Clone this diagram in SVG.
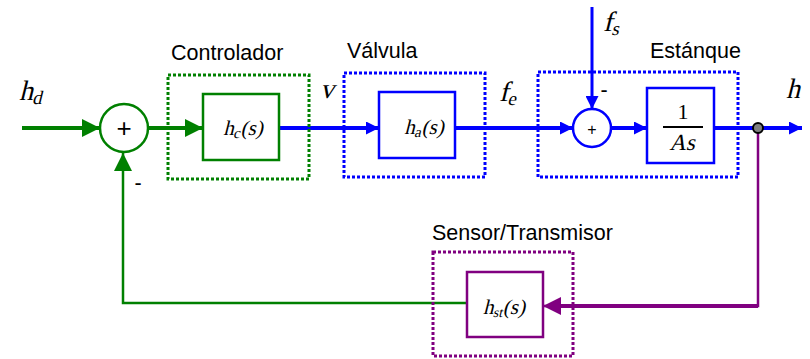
<svg xmlns="http://www.w3.org/2000/svg" width="810" height="359" viewBox="0 0 810 359">
<style>
.lbl{font-family:"Liberation Sans",Arial,sans-serif;font-size:21.5px;fill:#000}
.m{font-family:"Liberation Serif","Times New Roman",serif;fill:#000}
.g{stroke:#008000;fill:none}
.b{stroke:#0000FF;fill:none}
.p{stroke:#800080;fill:none}
.box{stroke-width:2.5;fill:#fff}
.dot{stroke-width:3;stroke-dasharray:3 2;fill:none}
</style>
<defs>
<marker id="ag" markerUnits="userSpaceOnUse" markerWidth="18" markerHeight="18" refX="18" refY="9" orient="auto"><path d="M0,0 L18,9 L0,18 Z" fill="#008000"/></marker>
<marker id="ab" markerUnits="userSpaceOnUse" markerWidth="13" markerHeight="13" refX="13" refY="6.5" orient="auto"><path d="M0,0 L13,6.5 L0,13 Z" fill="#0000FF"/></marker>
<marker id="ap" markerUnits="userSpaceOnUse" markerWidth="18" markerHeight="18" refX="18" refY="9" orient="auto"><path d="M0,0 L18,9 L0,18 Z" fill="#800080"/></marker>
</defs>

<g id="connectors">
<line class="g" x1="22" y1="128" x2="100" y2="128" stroke-width="4" marker-end="url(#ag)"/>
<line class="g" x1="148" y1="128" x2="203" y2="128" stroke-width="4" marker-end="url(#ag)"/>
<line class="b" x1="279" y1="128" x2="379" y2="128" stroke-width="4" marker-end="url(#ab)"/>
<line class="b" x1="455" y1="128" x2="573" y2="128" stroke-width="4" marker-end="url(#ab)"/>
<line class="b" x1="611" y1="128" x2="647" y2="128" stroke-width="4" marker-end="url(#ab)"/>
<line class="b" x1="714" y1="128" x2="802" y2="128" stroke-width="4" marker-end="url(#ab)"/>
<line class="b" x1="592" y1="7" x2="592" y2="109" stroke-width="3" marker-end="url(#ab)"/>
<polyline class="p" points="758,128 758,306 543,306" stroke-width="2.5" marker-end="url(#ap)"/>
<line class="p" x1="560" y1="306" x2="758" y2="306" stroke-width="4"/>
<polyline class="g" points="467,303 123,303 123,153" stroke-width="2.5" marker-end="url(#ag)"/>
<circle cx="758" cy="128" r="5" fill="#808080" stroke="#000" stroke-width="2"/>
</g>

<g id="sum1">
<circle cx="124" cy="128" r="24" class="g" stroke-width="2.5" fill="#fff"/>
<text x="124" y="137" text-anchor="middle" font-family="'Liberation Sans',Arial,sans-serif" font-size="26">+</text>
<text x="138" y="190" text-anchor="middle" class="lbl">-</text>
</g>

<g id="controlador">
<rect x="168" y="75" width="141" height="104" class="g dot"/>
<rect x="203" y="94" width="76" height="66" class="g box"/>
<text x="171" y="60" class="lbl">Controlador</text>
<text transform="translate(243,135) skewX(-14)" text-anchor="middle" class="m" font-size="21">h<tspan font-size="15" dy="3">c</tspan><tspan dy="-3">(s)</tspan></text>
</g>

<g id="valvula">
<rect x="344" y="73" width="141" height="104" class="b dot"/>
<rect x="379" y="92" width="76" height="66" class="b box"/>
<text x="347" y="58" class="lbl">Válvula</text>
<text transform="translate(424,134) skewX(-14)" text-anchor="middle" class="m" font-size="21">h<tspan font-size="15" dy="3">a</tspan><tspan dy="-3">(s)</tspan></text>
</g>

<g id="estanque">
<rect x="538" y="72" width="200" height="105" class="b dot"/>
<circle cx="592" cy="128" r="19" class="b" stroke-width="2.5" fill="#fff"/>
<text x="592" y="135" text-anchor="middle" font-family="'Liberation Sans',Arial,sans-serif" font-size="16">+</text>
<text x="604" y="97" text-anchor="middle" class="lbl" font-size="16">-</text>
<rect x="647" y="88" width="67" height="75" class="b box"/>
<line x1="663" y1="127" x2="703" y2="127" stroke="#000" stroke-width="2"/>
<text x="683" y="119" text-anchor="middle" class="m" font-size="22">1</text>
<text transform="translate(682,150) skewX(-14)" text-anchor="middle" class="m" font-size="23">As</text>
<text x="650" y="58" class="lbl">Estánque</text>
</g>

<g id="sensor">
<rect x="433" y="252" width="140" height="104" class="p dot"/>
<rect x="467" y="272" width="76" height="65" class="p box"/>
<text x="432" y="240" class="lbl">Sensor/Transmisor</text>
<text transform="translate(504,314) skewX(-14)" text-anchor="middle" class="m" font-size="21">h<tspan font-size="14" dy="3">st</tspan><tspan dy="-3">(s)</tspan></text>
</g>

<g id="signals">
<text transform="translate(19,100) skewX(-14)" class="m" font-size="28">h<tspan font-size="19" dy="4">d</tspan></text>
<text transform="translate(320,98) skewX(-14)" class="m" font-size="28">v</text>
<text transform="translate(499,101) skewX(-14)" class="m" font-size="28">f<tspan font-size="19" dy="4">e</tspan></text>
<text transform="translate(603,31) skewX(-14)" class="m" font-size="28">f<tspan font-size="19" dy="4">s</tspan></text>
<text transform="translate(786,98) skewX(-14)" class="m" font-size="28">h</text>
</g>
</svg>
